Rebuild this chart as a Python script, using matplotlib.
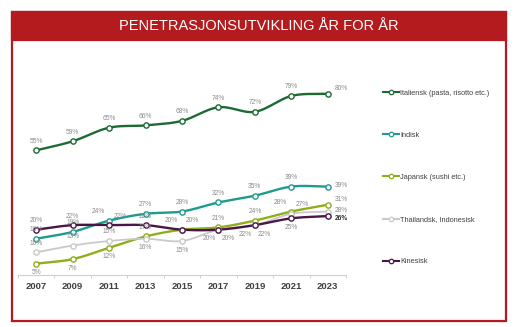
import matplotlib.pyplot as plt
import numpy as np
from matplotlib.patches import Rectangle
from matplotlib.lines import Line2D

plt.rcParams['font.family'] = ['Liberation Sans', 'DejaVu Sans']

years = ['2007', '2009', '2011', '2013', '2015', '2017', '2019', '2021', '2023']

italiensk = [55, 59, 65, 66, 68, 74, 72, 79, 80]
indisk = [16, 19, 24, 27, 28, 32, 35, 39, 39]
japansk = [5, 7, 12, 17, 20, 21, 24, 28, 31]
thai = [10, 13, 15, 16, 15, 20, 22, 27, 28]
kinesisk = [20, 22, 22, 22, 20, 20, 22, 25, 26]

names = ['Italiensk (pasta, risotto etc.)', 'Indisk', 'Japansk (sushi etc.)',
         'Thailandsk, Indonesisk', 'Kinesisk']
colors = ['#1d6a34', '#1f9a8f', '#8fae1b', '#c9c9c9', '#4b1547']

# value label spots: a above, b below, l/q above left/right, L/R below left/right,
# r right, u/d right and a little up/down
placements = [
    'aaaaaaaau',
    'aalaaaaar',
    'bbbaqaalu',
    'aaabbLLqr',
    'aaqalRRbd',
]
offsets = {
    'a': ((0, 4), 'center', 'bottom'),
    'b': ((0, -4), 'center', 'top'),
    'l': ((-3, 4), 'right', 'bottom'),
    'q': ((3, 4), 'left', 'bottom'),
    'L': ((-2, -4), 'right', 'top'),
    'R': ((2, -4), 'left', 'top'),
    'r': ((5, 1), 'left', 'center'),
    'u': ((5, 4), 'left', 'center'),
    'd': ((5, -2), 'left', 'center'),
}

RED = '#b41b1e'


def smooth(x, y, n=24):
    '''Catmull-Rom path through the points, like a smoothed office-chart line.'''
    x = np.asarray(x, float)
    y = np.asarray(y, float)
    px = np.concatenate(([2 * x[0] - x[1]], x, [2 * x[-1] - x[-2]]))
    py = np.concatenate(([2 * y[0] - y[1]], y, [2 * y[-1] - y[-2]]))
    xs, ys = [], []
    t = np.linspace(0, 1, n, endpoint=False)
    for i in range(1, len(px) - 2):
        for p, out in ((px, xs), (py, ys)):
            p0, p1, p2, p3 = p[i - 1], p[i], p[i + 1], p[i + 2]
            out.extend(0.5 * ((2 * p1) + (-p0 + p2) * t
                              + (2 * p0 - 5 * p1 + 4 * p2 - p3) * t ** 2
                              + (-p0 + 3 * p1 - 3 * p2 + p3) * t ** 3))
    xs.append(x[-1])
    ys.append(y[-1])
    return np.array(xs), np.array(ys)


fig = plt.figure(figsize=(5.19, 3.27), dpi=100)
W, H = 519, 327

# red frame and title bar, kept behind the axes
fig.add_artist(Rectangle((12 / W, 1 - 321 / H), 494 / W, 309 / H, transform=fig.transFigure,
                         facecolor='white', edgecolor=RED, linewidth=1.6, zorder=-2))
fig.add_artist(Rectangle((12 / W, 1 - 40 / H), 494 / W, 28 / H, transform=fig.transFigure,
                         facecolor=RED, edgecolor=RED, linewidth=1.6, zorder=-1))
fig.text(259 / W, 1 - 26.5 / H, 'PENETRASJONSUTVIKLING ÅR FOR ÅR', color='white',
         fontsize=10.5, ha='center', va='center')

ax = fig.add_axes([18 / W, 1 - 275 / H, 328 / W, 204 / H])
ax.set_facecolor('none')
ax.set_xlim(-0.5, len(years) - 0.5)
ax.set_ylim(0, 90)

x = np.arange(len(years))
series = [italiensk, indisk, japansk, thai, kinesisk]
handles = []
for vals, name, col, place in zip(series, names, colors, placements):
    sx, sy = smooth(x, vals)
    lw = 1.3 if col == '#c9c9c9' else 1.7
    ax.plot(sx, sy, color=col, linewidth=lw, solid_capstyle='round', zorder=2)
    ax.plot(x, vals, linestyle='none', marker='o', markersize=3.8, markerfacecolor='white',
            markeredgecolor=col, markeredgewidth=1.0, zorder=3)
    for xi, v, p in zip(x, vals, place):
        off, ha, va = offsets[p]
        bold = name == 'Kinesisk' and xi == x[-1]
        ax.annotate(f'{v}%', (xi, v), xytext=off, textcoords='offset points',
                    ha=ha, va=va, fontsize=4.8, color='#333333' if bold else '#8c8c8c',
                    fontweight='bold' if bold else 'normal', zorder=4)
    handles.append(Line2D([], [], color=col, linewidth=1.5, marker='o', markersize=3.2,
                          markerfacecolor='white', markeredgecolor=col, markeredgewidth=0.9))

for side in ('top', 'right', 'left'):
    ax.spines[side].set_visible(False)
ax.spines['bottom'].set_color('#d0d0d0')
ax.spines['bottom'].set_linewidth(0.8)
ax.set_yticks([])
ax.set_xticks(x)
ax.set_xticklabels(years, fontsize=6.8, fontweight='bold', color='#404040')
ax.tick_params(axis='x', which='major', length=0, pad=5)
ax.set_xticks(np.arange(-0.5, len(years)), minor=True)
ax.tick_params(axis='x', which='minor', length=2.5, width=0.6, color='#c8c8c8')

fig.legend(handles, names, loc='upper left', bbox_to_anchor=(379 / W, 1 - 86 / H),
           frameon=False, fontsize=5.3, handlelength=2.2, handletextpad=0.2,
           labelspacing=4.75, borderpad=0, labelcolor='#404040')

fig.savefig('out.png', dpi=100)
